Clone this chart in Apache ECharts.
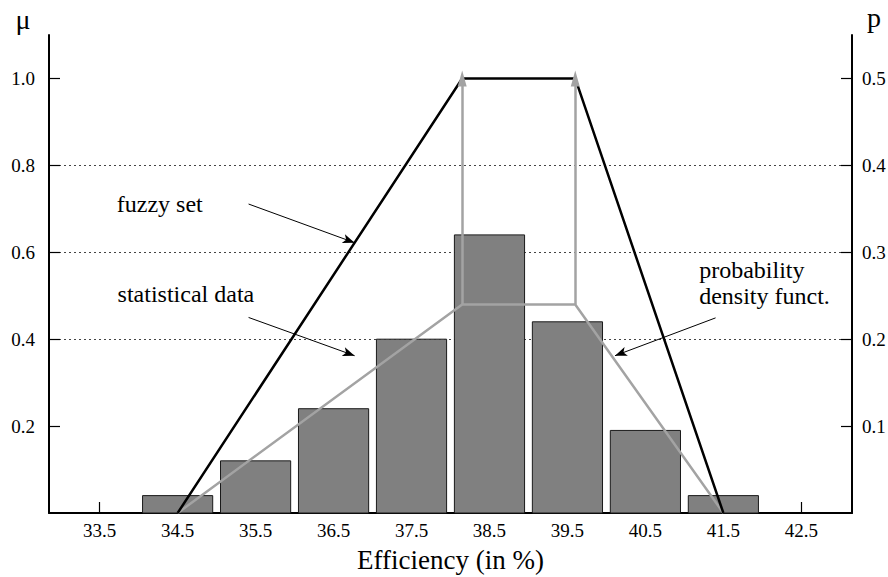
<!DOCTYPE html>
<html>
<head>
<meta charset="utf-8">
<script src="https://cdn.jsdelivr.net/npm/echarts@6/dist/echarts.min.js"></script>
<style>
html,body{margin:0;padding:0;background:#fff;}
#chart{width:888px;height:577px;}
</style>
</head>
<body>
<div id="chart"></div>
<script>
// ---- data ----
const xTickLabels = [33.5, 34.5, 35.5, 36.5, 37.5, 38.5, 39.5, 40.5, 41.5, 42.5];
const muTicks = [0.2, 0.4, 0.6, 0.8, 1.0];
const pTicks = [0.1, 0.2, 0.3, 0.4, 0.5];
const binCenters = [34.5, 35.5, 36.5, 37.5, 38.5, 39.5, 40.5, 41.5];
const binHeights = [0.04, 0.12, 0.24, 0.40, 0.64, 0.44, 0.19, 0.04];
const binWidth = 0.9;
const fuzzyX = [34.5, 38.15, 39.6, 41.5];
const fuzzyMu = [0, 1, 1, 0];
const pdfX = [34.5, 38.15, 39.6, 41.5];
const pdfMu = [0, 0.48, 0.48, 0];
// annotation arrows: [x1, y1, x2, y2] in data units
const fuzzyArrow = [35.41, 0.711, 36.77, 0.622];
const statArrow = [35.41, 0.450, 36.77, 0.362];
const pdfArrow = [41.40, 0.449, 40.11, 0.362];
// annotation texts: [text, x, y]
const notes = [
  ['fuzzy set', 33.72, 0.711],
  ['statistical data', 33.73, 0.503],
  ['probability\ndensity funct.', 41.19, 0.530]
];

const FONT = "'Liberation Serif', 'Times New Roman', serif";
const chart = echarts.init(document.getElementById('chart'), null, {renderer: 'svg'});

const arrowLine = (a) => [{coord: [a[0], a[1]]}, {coord: [a[2], a[3]]}];

const option = {
  animation: false,
  backgroundColor: '#fff',
  textStyle: {fontFamily: FONT, color: '#000'},
  grid: {left: 49, right: 36, top: 35, bottom: 64, containLabel: false, outerBoundsMode: 'none'},
  xAxis: {
    type: 'value', min: 32.85, max: 43.15,
    name: 'Efficiency (in %)', nameLocation: 'middle', nameGap: 33,
    nameTextStyle: {fontFamily: FONT, fontSize: 27, color: '#000'},
    axisLine: {show: true, lineStyle: {color: '#000', width: 2}},
    axisTick: {show: true, inside: true, length: 11, customValues: xTickLabels, lineStyle: {color: '#000', width: 1.2}},
    axisLabel: {customValues: xTickLabels, margin: 8, fontFamily: FONT, fontSize: 19, color: '#000',
      formatter: v => v.toFixed(1)},
    splitLine: {show: false}
  },
  yAxis: [{
    type: 'value', min: 0, max: 1.1, interval: 0.2, position: 'left',
    axisLine: {show: true, lineStyle: {color: '#000', width: 2}},
    axisTick: {show: true, inside: true, length: 11, customValues: muTicks, lineStyle: {color: '#000', width: 1.2}},
    axisLabel: {customValues: muTicks, margin: 14, fontFamily: FONT, fontSize: 19, color: '#000',
      formatter: v => v.toFixed(1)},
    splitLine: {show: true, showMinLine: false, showMaxLine: false,
      lineStyle: {color: '#444', width: 1, type: [2, 3]}}
  }, {
    type: 'value', min: 0, max: 0.55, position: 'right',
    axisLine: {show: true, lineStyle: {color: '#000', width: 2}},
    axisTick: {show: true, inside: true, length: 11, customValues: pTicks, lineStyle: {color: '#000', width: 1.2}},
    axisLabel: {customValues: pTicks, margin: 10, fontFamily: FONT, fontSize: 19, color: '#000',
      formatter: v => v.toFixed(1)},
    splitLine: {show: false}
  }],
  series: [
    {
      type: 'custom', name: 'statistical data', z: 2,
      data: binCenters.map((c, i) => [c, binHeights[i]]),
      encode: {x: 0, y: 1},
      renderItem: (params, api) => {
        const c = api.value(0), v = api.value(1);
        const p0 = api.coord([c - binWidth / 2, v]);
        const p1 = api.coord([c + binWidth / 2, 0]);
        return {type: 'rect', shape: {x: p0[0], y: p0[1], width: p1[0] - p0[0], height: p1[1] - p0[1]},
          style: {fill: '#808080', stroke: '#1a1a1a', lineWidth: 1}};
      },
      silent: true
    },
    {
      type: 'line', name: 'pdf', z: 3, symbol: 'none', silent: true,
      data: pdfX.map((x, i) => [x, pdfMu[i]]),
      lineStyle: {color: '#a3a3a3', width: 2.5},
      markLine: {
        silent: true, symbol: ['none', 'triangle'], symbolSize: [9, 16],
        label: {show: false},
        lineStyle: {color: '#a3a3a3', width: 2.5, type: 'solid'},
        data: [
          [{coord: [pdfX[1], pdfMu[1]]}, {coord: [fuzzyX[1], fuzzyMu[1]]}],
          [{coord: [pdfX[2], pdfMu[2]]}, {coord: [fuzzyX[2], fuzzyMu[2]]}]
        ]
      }
    },
    {
      type: 'line', name: 'fuzzy set', z: 4, symbol: 'none', silent: true,
      data: fuzzyX.map((x, i) => [x, fuzzyMu[i]]),
      lineStyle: {color: '#000', width: 2.5}
    },
    {
      type: 'line', name: 'notes', z: 5, symbol: 'none', silent: true, data: [],
      markLine: {
        silent: true, symbol: ['none', 'arrow'], symbolSize: [7, 12],
        label: {show: false},
        lineStyle: {color: '#000', width: 1, type: 'solid'},
        data: [arrowLine(fuzzyArrow), arrowLine(statArrow), arrowLine(pdfArrow)]
      }
    }
  ]
};
chart.setOption(option);

const g = notes.map(n => {
  const p = chart.convertToPixel({xAxisIndex: 0, yAxisIndex: 0}, [n[1], n[2]]);
  return {type: 'text', x: p[0], y: p[1], silent: true,
    style: {text: n[0], fontFamily: FONT, fontSize: 24, fill: '#000', verticalAlign: 'middle', align: 'left', lineHeight: 26}};
});
g.push({type: 'text', x: 23, y: 19, style: {text: 'μ', fontFamily: FONT, fontSize: 28, fill: '#000', align: 'center', verticalAlign: 'middle'}});
g.push({type: 'text', x: 874, y: 17, style: {text: 'p', fontFamily: FONT, fontSize: 28, fill: '#000', align: 'center', verticalAlign: 'middle'}});
chart.setOption({graphic: g});
</script>
</body>
</html>
